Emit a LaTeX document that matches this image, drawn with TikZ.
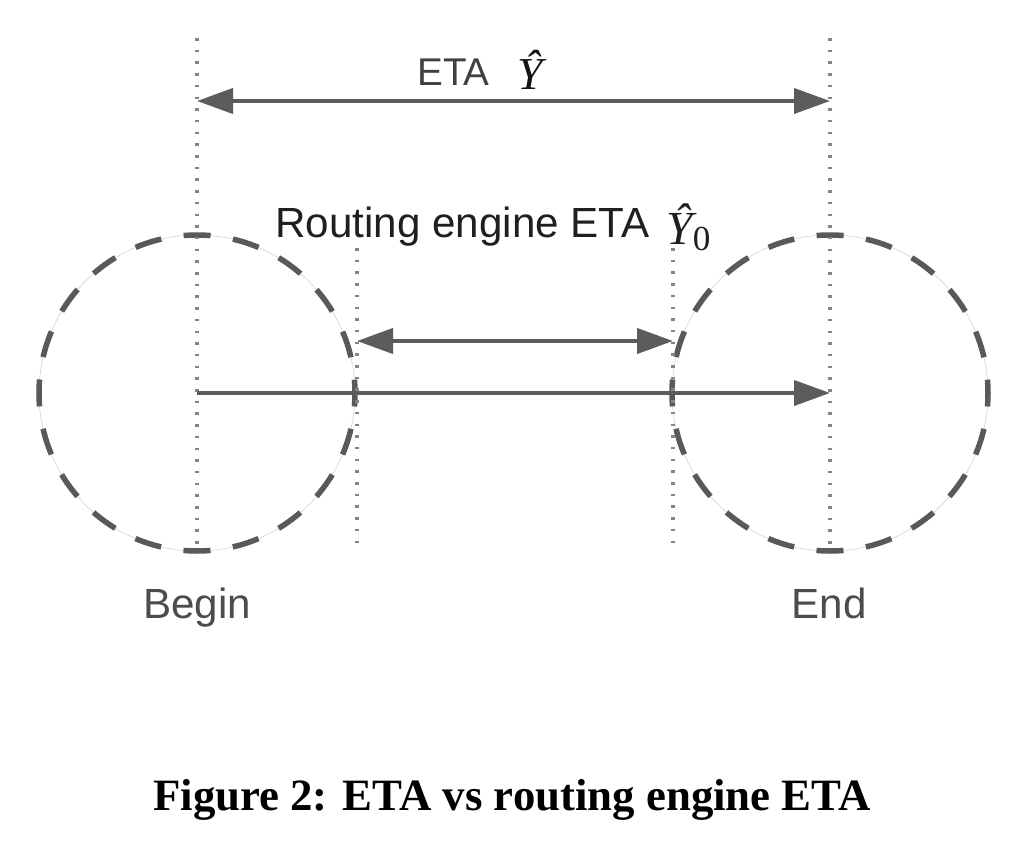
\documentclass[tikz,border=0pt]{standalone}
\usepackage{fontspec}
\setmainfont{Liberation Serif}
\setsansfont{Liberation Sans}
\usetikzlibrary{arrows.meta}
% #1 size, #2 drop below baseline
\newcommand{\yhat}[2]{\lower#2\hbox{\rmfamily\itshape\fontsize{#1}{#1}\selectfont Ŷ}}
\newcommand{\sub}[2]{\lower#2\hbox{\rmfamily\fontsize{#1}{#1}\selectfont 0}}

\begin{document}
\begin{tikzpicture}[x=0.2mm, y=-0.2mm,
		guide/.style={line width=0.95mm, color=black!48, dash pattern=on 0.5mm off 1.84mm},
		zone/.style={line width=1.1mm, color=black!65, dash pattern=on 5.4mm off 4.53mm, dash phase=2.7mm},
		zonethin/.style={line width=0.1mm, color=black!20},
		span/.style={line width=0.8mm, color=black!64},
		tip/.style={-{Triangle[length=7.2mm, width=5mm]}},
		tips/.style={{Triangle[length=7.2mm, width=5mm]}-{Triangle[length=7.2mm, width=5mm]}},
		lbl/.style={font=\sffamily\fontsize{24}{28}\selectfont, inner sep=0pt}]
			%%%%% START %%%%%
			
			\useasboundingbox[fill=white] (0, 0) rectangle (1024, 851);
			
			\coordinate (b) at (197, 393);
			\coordinate (e) at (830, 393);
			\coordinate (btop) at (197, 38);
			\coordinate (bbot) at (197, 552);
			\coordinate (etop) at (830, 38);
			\coordinate (ebot) at (830, 552);
			\coordinate (rtop) at (357, 248);
			\coordinate (rbot) at (357, 550);
			\coordinate (ltop) at (673, 248);
			\coordinate (lbot) at (673, 550);
			\coordinate (ya) at (197, 101);
			\coordinate (yb) at (830, 101);
			\coordinate (ra) at (357, 341);
			\coordinate (rb) at (673, 341);
			
			% circles round begin and end
			\draw[zonethin] (b) circle (158);
			\draw[zonethin] (e) circle (158);
			\draw[zone] (b) circle (158);
			\draw[zone] (e) circle (158);
			
			% dotted guides
			\draw[guide] (btop) -- (bbot);
			\draw[guide] (etop) -- (ebot);
			\draw[guide] (rtop) -- (rbot);
			\draw[guide] (ltop) -- (lbot);
			
			% arrows
			\draw[span, tips] (ya) -- (yb);
			\draw[span, tips] (ra) -- (rb);
			\draw[span, tip] (b) -- (e);
			
			% labels
			\node[lbl, anchor=base west, color=black!75, font=\sffamily\fontsize{22}{26}\selectfont] (eta) at (417, 85)
				{ETA\hspace{0.72em}\textcolor{black!92}{\yhat{26}{2.8pt}}};
			\node[lbl, anchor=base west, color=black!88] (reta) at (275, 237)
				{Routing engine ETA\hspace{0.4em}\yhat{27}{4.5pt}\sub{20}{7.4pt}};
			\node[lbl, anchor=base, color=black!70] (begin) at (197, 618) {Begin};
			\node[lbl, anchor=base, color=black!70] (end) at (829, 618) {End};
			
			\node[font=\bfseries\fontsize{25.5}{30}\selectfont] (cap) at (512, 800) {Figure 2: ETA vs routing engine ETA};
			
			%%%%% END %%%%%
\end{tikzpicture}
\end{document}
